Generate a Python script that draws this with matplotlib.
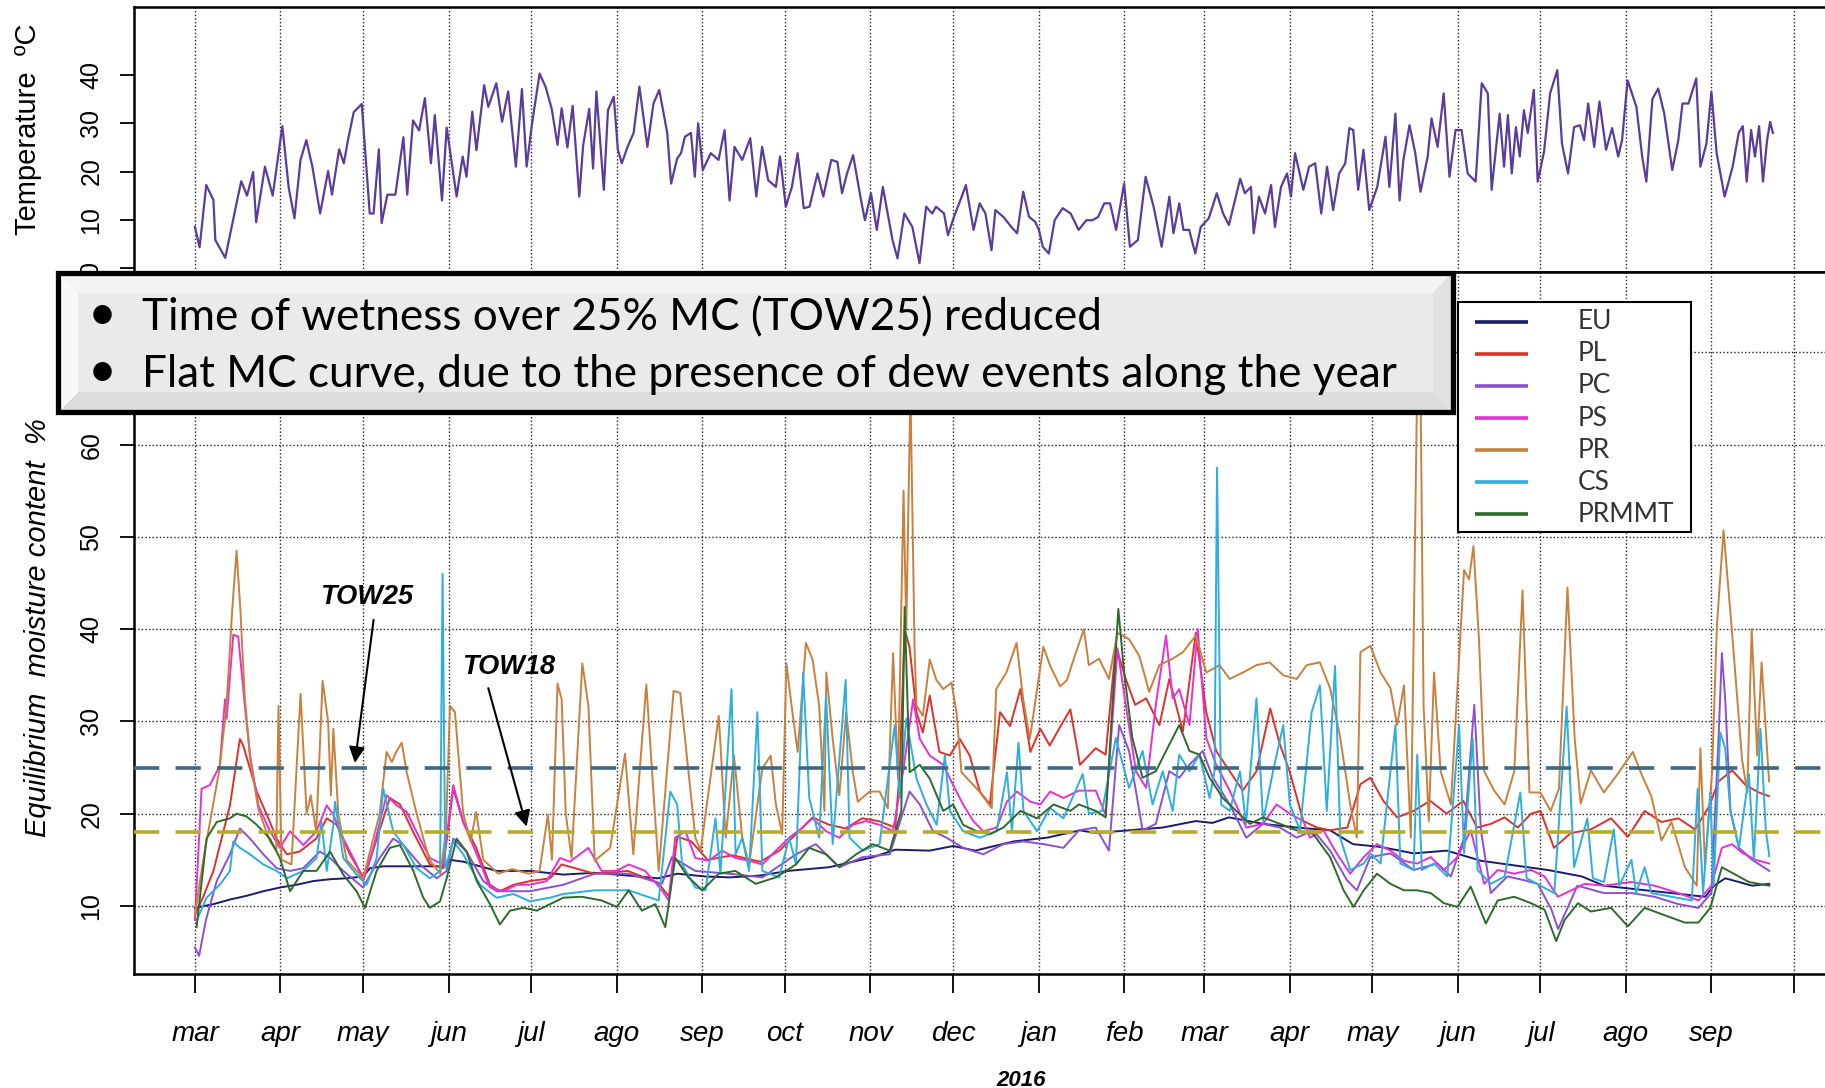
import matplotlib
matplotlib.use("Agg")
import matplotlib.pyplot as plt
import numpy as np
from matplotlib.patches import Rectangle

# all x values are days counted from 1 March 2015

MONTH_NAMES = ["mar", "apr", "may", "jun", "jul", "ago", "sep", "oct", "nov", "dec",
               "jan", "feb", "mar", "apr", "may", "jun", "jul", "ago", "sep"]

TEMP_DAY = [0, 1.7, 4.1, 6.7, 7.4, 11.0, 15.3, 16.8, 18.9, 21.1, 22.2, 25.4, 28.2, 31.7, 34.0,
            36.1, 38.3, 40.4, 42.6, 45.4, 48.3, 49.7, 52.3, 54.0, 55.5, 57.6, 60.5, 63.4, 64.8,
            66.7, 67.7, 69.8, 72.7, 75.6, 77.0, 79.1, 81.3, 83.4, 85.6, 87.0, 89.6, 91.3, 92.5,
            94.9, 97.1, 98.5, 100.6, 102.1, 104.9, 106.4, 109.3, 111.4, 113.6, 116.4, 118.6,
            120.3, 122.2, 125.0, 127.2, 129.4, 131.5, 133.0, 135.1, 137.0, 139.4, 140.8, 143.0,
            144.4, 145.6,
            148.3, 149.8, 151.9, 153.4, 154.8, 156.9, 159.1, 161.2, 164.1, 166.3, 168.4, 171.3,
            172.7, 174.9, 176.3, 177.7, 179.9, 181.3, 182.5, 184.2, 187.1, 189.9, 192.1, 193.9,
            195.7, 198.5, 201.4, 203.6, 205.7, 207.9, 210.7, 212.2, 214.3, 216.5, 218.6, 220.8,
            222.9, 225.8, 227.9, 230.8, 233.0, 234.7, 236.5, 238.7, 241.6, 243.0, 245.2, 247.3,
            249.5, 253.0, 254.8, 257.3, 260.2, 262.8, 265.2, 267.4, 268.8, 271.7, 273.1, 275.3,
            278.1, 279.6, 282.4, 284.6, 286.7, 288.9, 290.3, 293.2, 296.1, 298.2, 300.4, 302.5,
            304.7, 306.1, 307.5, 309.7, 311.8, 314.7, 317.6, 320.5, 323.3, 325.5, 327.6, 329.8,
            331.9, 334.1, 337.0, 339.1, 342.0, 344.8, 347.7, 350.6, 353.4, 354.9, 357.0, 358.5,
            360.6, 362.8,
            364.8, 367.7, 370.6, 372.9, 375.0, 377.2, 379.1, 380.8, 383.0, 384.0, 385.9, 388.1,
            390.3, 391.7, 393.9, 396.1, 397.5, 399.0, 402.0, 404.1, 406.3, 408.5, 410.6, 412.8,
            415.0, 417.2, 418.7, 420.1, 421.9, 423.8, 425.9, 428.8, 431.8, 433.2, 435.4, 436.9,
            438.3, 440.5, 442.6, 444.5, 447.1, 448.5, 450.7, 452.9, 455.0, 457.2, 459.4, 461.6,
            464.5, 466.7, 468.9, 470.3, 473.2, 474.8, 476.2, 477.6, 479.1, 480.5, 482.0, 483.4,
            485.6, 487.0, 489.3, 491.5, 494.1, 495.8, 498.0, 500.2, 502.3, 503.8, 505.3, 507.5,
            509.4, 511.8, 514.0, 516.2, 517.6, 519.6, 522.8, 524.9, 526.4, 528.6, 530.7, 532.9,
            535.8, 538.0, 539.5, 541.7, 544.5, 546.0, 548.2, 550.0, 551.9, 554.8, 557.7, 559.9,
            561.4, 562.8, 564.4, 565.8, 567.3, 568.7, 570.2, 571.3, 572.3]
TEMP_C = [8.5, 4.3, 17.2, 14.1, 5.8, 2.1, 14.0, 18.0, 15.0, 19.9, 9.5, 21.0, 15.0, 29.4, 16.7,
          10.3, 22.4, 26.5, 21.0, 11.3, 20.1, 15.2, 24.6, 21.7, 26.5, 32.3, 34.0, 11.3, 11.3,
          24.6, 9.3, 15.2, 15.2, 27.1, 15.2, 30.6, 28.5, 35.2, 21.7, 31.7, 14.0, 29.1, 24.4,
          14.8, 23.1, 18.9, 32.4, 24.4, 37.9, 33.4, 38.3, 30.3, 36.6, 21.0, 37.1,
          21.0, 29.7, 40.3, 37.5, 33.0, 25.5, 33.1, 25.0, 33.6, 14.8, 25.4, 33.0,
          20.6, 36.6,
          16.2, 32.7, 35.5, 24.5, 21.7, 25.1, 28.0, 37.6, 25.1, 34.1, 36.9, 28.0,
          17.5, 22.7, 23.8, 27.2, 28.0, 18.9, 30.0, 20.3, 23.8, 22.4, 28.6, 14.0,
          25.1, 22.4, 26.9, 14.8, 25.1, 18.2, 16.8, 23.1, 12.7, 16.8, 23.8, 12.4,
          12.7, 19.6, 14.8, 22.4, 22.0, 15.5, 19.6, 23.4, 14.0, 9.9, 15.5, 7.9,
          16.8, 5.8, 2.0, 11.3, 8.5, 1.0, 12.7, 11.3, 12.7, 11.3, 6.8, 10.6,
          14.8, 17.2, 7.9, 13.4, 11.3, 3.7, 12.0, 10.6, 8.5, 7.2, 15.8, 10.6,
          9.6, 7.9, 4.4, 3.0, 9.9, 12.4, 11.3, 7.9, 9.9, 9.9, 10.6, 13.4,
          13.4, 7.9, 17.5, 4.4, 5.8, 18.9, 12.7, 4.4, 14.8, 7.2, 13.4, 7.9,
          7.9, 3.0,
          8.5, 10.3, 15.5, 11.3, 8.9, 14.0, 18.5, 15.5, 16.8, 7.2, 14.8, 11.3,
          17.2, 8.5, 16.8, 19.6, 14.8, 23.8, 16.2, 21.0, 21.7, 11.3, 21.0, 12.0,
          19.6, 21.7, 29.0, 28.6, 16.2, 24.5, 12.0, 16.8, 27.2, 16.8, 32.0, 14.0,
          22.4, 29.6, 23.8, 15.8, 23.1, 31.0, 25.1, 36.2, 18.9, 28.6, 28.6, 19.6,
          17.9, 38.3, 36.2, 16.2, 32.0, 21.0, 31.7, 19.6, 29.2, 23.1, 32.7, 28.0,
          36.9, 17.9, 24.1, 36.2, 41.0, 25.8, 19.6, 29.2, 29.6, 26.5, 34.1, 25.1,
          34.5, 24.5, 29.0, 23.1, 26.5, 38.9, 33.4, 23.1, 17.9, 35.0, 37.2, 32.0,
          20.3, 26.5, 34.1, 34.1, 39.3, 21.0, 25.8, 36.5, 23.8, 14.8, 21.0, 28.0,
          29.4, 17.9, 28.6, 23.1, 29.4, 17.9, 26.5, 30.3, 28.0]

EU_DAY = [0, 6.7, 12.7, 18.7, 24.8, 30.8, 36.9, 42.9, 49, 55, 61, 63.5, 68.3, 79.2, 90, 92.5,
          97.3, 103.4, 109.4, 115.5, 121.5, 133.6, 145, 157, 168, 175, 185, 194, 205, 215,
          230, 246, 254, 266.5, 275, 283, 297, 309, 321, 326.7, 338.8, 351, 363, 369, 375,
          387.4, 399.6, 411.7, 420, 430, 442, 454, 466.4, 478.5, 490.7, 503, 511, 523, 535.5,
          547.7, 551, 555, 560, 564.8, 571]
EU_MC = [9.8, 10.2, 10.7, 11.1, 11.6, 12.0, 12.3, 12.7, 12.9, 13.0, 13.2, 14.1, 14.3, 14.3, 14.3,
         15.0, 14.8, 14.3, 13.8, 13.8, 13.8, 13.4, 13.6, 13.3, 13.0, 13.5, 13.2, 13.1, 13.3, 13.8,
         14.2, 15.3, 16.1, 16.0, 16.5, 16.0, 17.0, 17.4, 18.2, 17.9, 18.2, 18.5, 19.2, 19.0, 19.6,
         18.9, 18.5, 18.2, 16.7, 16.4, 15.7, 16.0, 14.9, 14.4, 13.9, 13.2, 12.2, 11.8, 11.4,
         11.0, 12.2, 13.0, 12.6, 12.2, 12.4]

PL_DAY = [0, 3, 6.7, 12.7, 16.3, 17.5, 22.4, 27.2, 29.6, 33.3, 38, 44, 47.8, 51.4, 56.2, 61.3,
          66, 70.7, 74.4, 79.2, 85.2, 90, 93.7, 97.3, 102, 107, 110.6, 115.5, 121.5, 128.8, 133,
          145, 157, 168, 172, 175, 180, 186, 195, 205, 212, 218, 224, 230, 236, 242, 248, 254,
          255.6, 257.4, 259.2, 261.7, 264, 266.5, 270, 273.8, 277.4, 281, 284.7, 288.3, 292,
          295.6, 299.4, 303, 306.6, 310, 314, 317.5, 321, 326.7, 330.3, 334, 337.6, 341, 345,
          349.8, 353.4, 358.3, 363, 366.8, 370.4, 375.3, 380, 385, 390, 393.5, 397, 402, 407,
          411.7, 418, 422.7, 426.3, 431, 436, 442, 448, 454, 460, 465, 470, 475, 479.8, 484.6,
          488, 492.9, 499, 506.3, 513.6, 519.7, 525.8, 531.9, 538, 544, 549, 552.6, 557.5, 562.4,
          567.2, 570.9]
PL_MC = [9.0, 11, 13.8, 20.9, 28.1, 27.4, 22.4, 19.1, 17.3, 15.6, 15.9, 17.3, 19.5, 18.8, 15.6,
         13.0, 17.3, 21.7, 21.0, 18.0, 14.5, 14.1, 22.7, 19.1, 16.3, 12.3, 11.6, 12.3, 12.7, 13.0,
         14.5, 13.5, 13.8, 12.5, 11.0, 17.5, 17.0, 15.0, 15.5, 14.8, 16.0, 17.8, 19.6, 18.8, 18.4,
         19.5, 19.2, 18.5, 24.5, 40.0, 38.0, 31.0, 28.8, 32.8, 26.7, 26.3, 28.1, 26.3, 22.4, 21.0,
         31.0, 29.5, 33.5, 26.7, 29.2, 27.4, 29.5, 31.3, 25.3, 27.1, 26.4, 38.2, 34.6, 31.8, 32.5,
         29.6, 34.6, 28.9, 39.6, 31.0, 26.8, 24.6, 22.5, 24.6, 31.4, 27.5, 24.6, 19.2, 18.5, 18.2,
         18.5, 23.2, 23.9, 21.4, 19.6, 20.3, 21.4, 20.0, 21.4, 18.5, 18.9, 19.6, 18.5, 20.0, 20.3,
         16.3, 17.9, 18.3, 19.5, 17.5, 20.3, 19.1, 19.5, 18.3, 20.7, 23.5, 24.7, 23.1, 22.3, 21.9]

PC_DAY = [0, 1.5, 4, 7.9, 12.7, 16.3, 20, 24.8, 29.6, 34.5, 39.3, 45.3, 49, 53.8, 61, 67, 71.9,
          75.6, 81.6, 87.7, 91.3, 93.7, 98.5, 104.6, 109.4, 121.5, 133.6, 145, 157.3, 169.4, 173,
          181.5, 193.7, 205.8, 218, 225.2, 233.7, 242.2, 252, 259.2, 262.9, 267.7, 272.6, 278.6,
          285.9, 293.2, 300.5, 307.8, 315, 320.6, 326.7, 331.5, 335.2, 338.8, 343.7, 348.5, 353.4,
          357, 360.7, 365.5, 369.2, 375.3, 381.3, 387.4, 393.5, 399.6, 405.6, 411.7, 417.8, 421.4,
          426.3, 433.6, 442, 450.6, 455.5, 460.3, 464, 466.4, 470, 476, 482, 487, 492, 494.4,
          501.4, 511, 521, 529.4, 538, 545.3, 550, 552.6, 553.8, 555, 556.9, 560, 564.8, 571]
PC_MC = [5.5, 4.6, 8.5, 12.7, 15.6, 18.4, 17.3, 15.6, 14.1, 13.8, 14.1, 15.9, 15.2, 13.8, 12.0,
         15.2, 17.3, 16.6, 14.5, 13.0, 13.8, 17.3, 15.9, 12.7, 11.6, 11.6, 12.3, 13.5, 13.5, 12.4,
         15.3, 13.8, 13.5, 13.1, 15.6, 16.7, 14.2, 15.3, 15.6, 22.4, 21.0, 18.1, 17.4, 16.3, 15.6,
         16.7, 17.0, 16.7, 16.3, 18.2, 18.5, 16.0, 29.6, 26.8, 18.2, 18.9, 24.6, 23.9, 25.3, 26.8,
         23.9, 21.0, 17.4, 18.9, 18.5, 17.4, 18.2, 16.0, 12.8, 11.7, 15.3, 15.7, 13.9, 14.6, 13.2,
         17.4, 31.8, 18.2, 11.4, 13.2, 12.8, 12.4, 9.6, 7.5, 12.2, 11.4, 11.4, 11.0, 10.2, 9.8,
         11.4, 28.3, 37.4, 32.4, 20.3, 16.3, 15.0, 13.8]

PS_DAY = [0, 2.4, 5.4, 9, 10.9, 11.5, 13.9, 15.7, 18.1, 20, 23, 27.2, 30.8, 34.5, 39.3, 44.1,
          47.8, 50.2, 53.8, 58.6, 61, 64.7, 69.5, 73.2, 76.8, 81.6, 85.2, 90, 93.7, 97.3, 102.2,
          107, 111.8, 116.7, 121.5, 127.6, 132.4, 136, 142.7, 147.5, 153, 157.3, 163.3, 169.4,
          171.8, 174.2, 177.9, 181.5, 186.4, 191.2, 196, 201, 205.8, 210.7, 215.5, 220.4, 224,
          228.9, 233.7, 238.6, 243.4, 248.3, 253.2, 256.8, 260.5, 262.9, 266.5, 271.4, 275,
          278.6, 282.3, 285.9, 290.8, 294.5, 298.1, 303, 306.6, 310.2, 315, 320.6, 326.7, 330.3,
          334.6, 337.6, 341.3, 345, 348.5, 352.2, 354.6, 357, 360.7, 363.7, 366.8, 370.4, 375.3,
          381.3, 387.4, 392.3, 397.1, 402, 404.4, 409.3, 414.1, 419, 423.9, 428.7, 433.6, 438.5,
          443.3, 448.2, 453, 457.9, 462.7, 467.6, 472.5, 478.5, 484.6, 489.5, 494.3, 499.2, 504,
          511, 521, 529.4, 538, 545.3, 550, 553.8, 557.5, 561, 566, 571]
PS_MC = [8.5, 22.7, 23.1, 25.2, 32.4, 30.3, 39.4, 39.2, 31.7, 26.3, 20.9, 18.1, 16.3, 18.1, 16.6,
         18.1, 20.9, 19.9, 17.3, 14.5, 12.7, 16.3, 22.0, 20.9, 20.2, 17.3, 15.2, 14.5, 23.1, 19.1,
         15.6, 12.0, 11.6, 12.3, 12.3, 12.7, 15.2, 14.8, 16.3, 13.8, 13.8, 14.5, 13.8, 11.7, 10.6,
         17.4, 18.1, 15.2, 14.9, 16.0, 15.2, 14.9, 14.5, 16.0, 17.4, 18.5, 19.5, 18.1, 17.4, 18.8,
         19.2, 18.8, 18.1, 24.5, 32.4, 28.1, 26.3, 25.3, 23.1, 21.0, 19.2, 18.1, 18.5, 21.3, 22.4,
         21.3, 21.0, 22.4, 21.7, 22.5, 22.5, 19.9, 37.9, 31.8, 24.6, 22.8, 31.8, 39.3, 32.5, 33.5,
         29.6, 40.0, 28.2, 25.3, 22.5, 18.5, 18.9, 21.0, 20.0, 19.2, 17.4, 18.2, 15.7, 13.5, 15.3,
         16.7, 16.0, 14.9, 14.6, 15.3, 13.9, 15.3, 18.2, 12.4, 13.9, 13.5, 13.9, 13.2, 11.0, 11.7,
         12.4, 12.2, 12.6, 12.2, 11.4, 10.6, 12.2, 16.3, 16.7, 15.8, 15.0, 14.6]

PR_DAY = [0, 3, 6, 9, 11.5, 13.5, 15.1, 16.5, 18, 20, 23, 27.2, 29.5, 30.3, 31.4, 35, 38.3, 40.5,
          42, 44, 46.3, 48.3, 49.3, 50.2, 52, 55, 61, 67, 69.5, 71.4, 73, 75, 76.8, 80.4, 85, 89,
          91, 92.5, 94.3, 97.3, 100, 102, 104.6, 110, 115, 121, 125, 128, 129.5, 131.5, 133,
          134.5, 136.6, 140.5, 142.7, 145, 150.6, 156, 159, 163.7, 168.2, 173.6, 176, 181.5,
          183.4, 190, 192.5, 195.5, 198.5, 201, 205.8, 208.8, 210.7, 213, 214.5, 216.7, 218.6,
          221.6, 224, 226.4, 228.3, 229, 231.3, 233.7, 236.2, 238.6, 240.4, 244.7, 248.3, 251.3,
          253.2, 255, 257, 258, 259.5, 261, 261.7, 264, 266.5, 268.9, 271.4, 274.4, 276.2, 278,
          284.5, 289, 290.6, 294.3, 298, 300.4, 302.8, 307.7, 310.2, 313.8, 316.3, 318, 322.4,
          324.2, 327.9, 331.5, 334.6, 338.8, 342.5, 346.1, 349.8, 354.6, 358.3, 363, 366.8, 371.6,
          375.3, 380.1, 385, 389.8, 394.7, 399.6, 403.2, 408, 411.7, 415.4, 419, 421.4, 422.7,
          426.3, 430, 433.6, 436, 438.5, 441, 444, 445.6, 447.5, 449.4, 451.8, 455.5, 460.3,
          462.1, 463.7, 465.7, 467.6, 471.2, 475, 478.5, 481.5, 484, 488, 491.7, 494.7, 497.8,
          500.4, 502.6, 506.3, 511, 516, 521.5, 524.6, 528.2, 531.9, 535.5, 540.4, 544.7, 546,
          547.7, 550.2, 552, 554.4, 557.5, 561.1, 563, 564.6, 566.6, 568.2, 570.9]
PR_MC = [9, 15, 20, 25, 32, 42, 48.5, 42, 33, 26, 20.5, 17, 16, 31.7, 15, 14.5, 33, 20, 22, 18,
         34.4, 30, 22, 29.2, 20, 15, 13, 20, 26.7, 25.6, 26.7, 27.7, 24.5, 20, 15, 13.5, 18, 31.7,
         31, 20, 17, 20.2, 15, 13.5, 14, 13.5, 13.8, 19.9, 15, 34.1, 32.4, 20, 15.2, 36.3, 31.7,
         14.9, 16.3, 26.5, 15.6, 34, 13.8, 33.3, 33.1, 17.4, 16, 30.6, 17.4, 26.3, 17.4, 14.5,
         24.9, 26.3, 21, 17.8, 36.3, 31, 26.7, 38.5, 36.7, 31.7, 20.3, 35.3, 28.1, 22, 31, 24.5,
         21.3, 22.4, 22.4, 20.6, 37.4, 23.8, 55, 40, 66, 38, 31.7, 30.6, 36.7, 34.5, 33.5, 34.2,
         31, 24.5, 22.4, 20.6, 33.5, 35.3, 38.5, 32.4, 28.1, 38.1, 36, 33.8, 34.5, 36.1, 40, 36.1,
         36.8, 34.6, 39.6, 38.9, 37.1, 33.2, 36.1, 36.8, 37.5, 39.3, 35.3, 36.1, 34.6, 35.3, 36.1,
         36.4, 35, 34.6, 36.1, 36.4, 33.6, 28.2, 21, 17.4, 37.5, 38.2, 35.3, 33.6, 29.6, 33.9,
         17.4, 82, 31.8, 19.2, 35.3, 24.6, 21, 46.4, 45.4, 49, 38.9, 24.6, 22.5, 21, 24.6, 44.2,
         22.3, 22.3, 20.3, 22.7, 44.5, 28.2, 21.1, 24.7, 22.3, 24.3, 26.7, 24.3, 21.9, 17.1, 19.1,
         14.2, 12.2, 27.1, 14.2, 24.3, 40.4, 50.7, 39.6, 25.9, 22.3, 40, 26.3, 36.4, 23.5]

CS_DAY = [0.6, 4.2, 9, 12.7, 13.9, 16.3, 20, 24.8, 29.6, 33.3, 39.3, 44.1, 45.9, 47.8, 50.2,
          50.8, 53.8, 58.6, 62.3, 65.9, 68.3, 71.9, 75.6, 80.4, 85.2, 88.9, 89.8, 90.8, 93.7,
          97.3, 103.4, 109.4, 115.5, 121.5, 128.8, 133.6, 145, 157.3, 168.2, 172.4, 174.9, 176.7,
          181.5, 185.2, 188.8, 190.6, 194.6, 196.1, 198.5, 201, 204, 205.8, 211.9, 215.5, 218,
          220.6, 222.8, 226.4, 228.9, 231.3, 236, 237.4, 242.2, 248.3, 253.8, 255.6, 258, 261.7,
          265.3, 269, 272, 273.8, 278.6, 284.7, 290.8, 294.5, 296.3, 298.7, 300.5, 305.4, 310.2,
          315, 322, 324.2, 329, 334, 338.8, 343.7, 347.3, 351, 354.6, 357, 360.7, 364.3, 368,
          369.8, 370.7, 372.2, 375.3, 379, 381.2, 385, 387.4, 391, 394.7, 397.1, 400.8, 405, 408,
          410.5, 413.5, 415.4, 419, 423.9, 426.3, 430, 435.4, 437.2, 442, 443.3, 445, 449.4,
          454.2, 458.5, 460.3, 463.4, 465.2, 470, 475, 480.7, 483, 488, 493, 497.5, 500.2, 505,
          507, 511, 514.6, 516.6, 521, 522.7, 525.8, 528.2, 535.5, 542.9, 545, 547, 549.6, 550.8,
          553.2, 555, 556.9, 560, 563.6, 565.4, 567.8, 569.7, 571]
CS_MC = [8.4, 10.9, 12.3, 13.8, 17.0, 16.3, 15.6, 14.5, 13.8, 13.0, 13.8, 15.2, 19.1, 13.8, 18.8,
         21.3, 15.2, 13.4, 12.3, 15.2, 22.7, 18.1, 16.6, 14.1, 13.0, 13.8, 46.0, 14.1, 17.0, 15.6,
         12.3, 10.9, 11.3, 10.5, 10.9, 11.3, 11.7, 11.7, 10.6, 22.4, 21.0, 14.5, 12.0, 11.7, 19.5,
         13.5, 33.5, 15.6, 17.4, 13.8, 31.0, 13.8, 13.1, 17.4, 14.5, 35.3, 21.7, 17.4, 32.8, 16.7,
         34.5, 17.4, 16.0, 16.7, 29.6, 21.7, 30.3, 23.8, 21.0, 18.8, 26.3, 20.3, 18.1, 17.4, 18.1,
         24.5, 18.1, 27.7, 20.3, 18.1, 20.6, 19.5, 24.3, 20.0, 20.3, 28.2, 22.8, 26.8, 21.0, 24.6,
         20.3, 26.4, 24.6, 26.4, 21.7, 24.6, 57.5, 21.0, 20.3, 24.6, 18.9, 32.5, 19.2, 24.6, 29.6,
         21.0, 18.2, 31.0, 33.9, 20.3, 36.0, 17.4, 13.9, 14.6, 15.7, 14.6, 29.6, 14.6, 13.9, 26.4,
         13.9, 14.6, 13.2, 29.6, 15.7, 28.2, 13.9, 12.4, 13.2, 22.3, 13.0, 12.2, 11.4, 31.6, 14.2,
         19.5, 13.0, 12.6, 18.3, 12.2, 15.0, 11.4, 14.2, 11.4, 11.0, 10.6, 22.7, 11.4, 22.3, 12.2,
         28.8, 27.1, 20.3, 16.3, 24.3, 15.0, 29.2, 18.3, 15.4]

PRMMT_DAY = [0.6, 4.2, 7.9, 12.7, 15.1, 18.7, 22.4, 27.2, 30.8, 34.5, 39.3, 44.1, 49, 53.8, 58.6,
             61.7, 65.9, 70.7, 74.4, 79.2, 82.8, 85.2, 88.9, 91.3, 94.9, 98.5, 102.2, 107, 110.6,
             114.3, 119.1, 124, 128.8, 133.6, 140.3, 147.5, 153, 157.3, 162.1, 167, 170.6, 174.2,
             179, 184, 190, 196, 203.4, 210.7, 218, 222.8, 228.9, 233.7, 239.8, 245.8, 252, 256.2,
             257.4, 259.2, 262.9, 266.5, 271.4, 275, 278.6, 283.5, 288.4, 293.2, 299.4, 305.4,
             311.4, 317.5, 320.6, 326.7, 330.3, 334.9, 337, 340, 343.7, 348.5, 353.4, 357, 360.7,
             364.3, 368, 372.8, 377.7, 382.6, 387.4, 393.5, 399.6, 405.6, 411.7, 416.6, 420.2,
             423.9, 428.7, 433.6, 438.5, 443.3, 448.2, 453, 457.9, 462.7, 468.2, 472.5, 478.5,
             484.6, 489.5, 493.7, 496.8, 501.6, 506.3, 513.6, 519.7, 525.8, 533, 540.4, 545.3,
             549.6, 553.8, 558.7, 563.6, 571]
PRMMT_MC = [7.7, 17.3, 19.1, 19.5, 20.0, 19.7, 18.8, 17.3, 15.2, 11.6, 13.8, 13.8, 15.9, 13.4,
            11.6, 9.8, 13.8, 16.3, 16.6, 13.8, 10.9, 9.8, 10.5, 13.0, 17.3, 15.9, 12.7, 10.2, 8.0,
            9.5, 9.8, 9.5, 10.2, 10.9, 11.0, 10.6, 9.9, 11.7, 9.5, 10.2, 7.7, 15.2, 13.1, 11.7,
            13.5, 13.8, 12.4, 13.1, 14.5, 16.3, 15.6, 14.2, 15.6, 16.7, 16.0, 20.3, 42.4, 24.5,
            25.3, 23.8, 20.3, 21.0, 18.8, 18.1, 17.8, 18.5, 20.3, 19.5, 21.0, 20.3, 21.0, 20.3,
            19.6, 42.2, 35.3, 28.2, 23.9, 24.6, 27.5, 29.6, 26.8, 26.4, 23.9, 21.7, 20.3, 18.9,
            19.6, 18.9, 18.2, 17.8, 15.3, 11.7, 9.9, 11.7, 13.5, 12.4, 11.7, 11.7, 11.4, 10.3, 9.9,
            12.1, 8.1, 10.6, 11.0, 10.3, 9.6, 6.2, 8.5, 10.3, 9.4, 9.8, 7.8, 9.8, 9.0, 8.2, 8.2,
            9.8, 14.2, 13.4, 12.6, 12.2]

SERIES_NAMES = ["EU", "PL", "PC", "PS", "PR", "CS", "PRMMT"]
SERIES_DAYS = [EU_DAY, PL_DAY, PC_DAY, PS_DAY, PR_DAY, CS_DAY, PRMMT_DAY]
SERIES_MC = [EU_MC, PL_MC, PC_MC, PS_MC, PR_MC, CS_MC, PRMMT_MC]
SERIES_COLORS = ["#1b1b6e", "#e0302a", "#8b4fd6", "#e62fd6", "#c9803d", "#2caee0", "#2d6b2d"]

TOW_LEVELS = [25, 18]
TOW_LABELS = ["TOW25", "TOW18"]
MC_TICKS = [10, 20, 30, 40, 50, 60, 70]

BULLETS = ["Time of wetness over 25% MC (TOW25) reduced",
           "Flat MC curve, due to the presence of dew events along the year"]

W, H = 1825, 1088
X_LEFT, X_RIGHT = -22.1, 591.2


def month_starts():
    months = np.arange(np.datetime64("2015-03"), np.datetime64("2016-11"))
    return (months.astype("datetime64[D]") - np.datetime64("2015-03-01")).astype(int)


def px_box(x0, y0, x1, y1):
    # pixel box (top-left origin) -> figure rect
    return [x0 / W, 1 - y1 / H, (x1 - x0) / W, (y1 - y0) / H]


def setup_axis(ax, ticks):
    ax.set_xlim(X_LEFT, X_RIGHT)
    ax.set_xticks(ticks)
    ax.spines["right"].set_visible(False)
    for s in ("left", "bottom", "top"):
        ax.spines[s].set_linewidth(1.8)
    ax.tick_params(axis="both", direction="out", length=10, width=1.3, colors="black")
    ax.tick_params(axis="y", labelrotation=90, pad=12, labelsize=18)
    ax.grid(True, axis="x", color="#222222", linewidth=1.0, linestyle=(0, (1, 1.6)))
    ax.set_axisbelow(True)


def draw_box(fig):
    ax = fig.add_axes(px_box(58, 273, 1453, 412), zorder=20)
    ax.set_axis_off()
    bw, bh, bev = 1395, 139, 20
    xx, yy = np.meshgrid(np.arange(bw), np.arange(bh))
    face = np.full((bh, bw), 0.915)
    top, bot, left, right = yy, bh - 1 - yy, xx, bw - 1 - xx
    near = np.minimum(np.minimum(top, bot), np.minimum(left, right))
    face[(near < bev) & (near == top)] = 0.95
    face[(near < bev) & (near == bot)] = 0.86
    face[(near < bev) & (near == right)] = 0.88
    face[(near < bev) & (near == left)] = 0.97
    ax.imshow(face, cmap="gray", vmin=0, vmax=1, extent=[0, 1, 0, 1], aspect="auto")
    ax.set_xlim(0, 1)
    ax.set_ylim(0, 1)
    ax.add_patch(Rectangle((0, 0), 1, 1, transform=ax.transAxes, facecolor="none",
                           edgecolor="black", lw=3.8, clip_on=False))
    for i, line in enumerate(BULLETS):
        y = [0.59, 0.18][i]
        ax.text(0.0215, y, "\u2022", fontsize=36, family="Lato", va="baseline",
                transform=ax.transAxes)
        ax.text(0.0602, y, line, fontsize=31.8, family="Lato", va="baseline",
                transform=ax.transAxes)


def draw_legend(fig):
    ax = fig.add_axes(px_box(1458, 302, 1691, 532), zorder=15)
    ax.set_xlim(0, 1)
    ax.set_ylim(0, 1)
    ax.set_xticks([])
    ax.set_yticks([])
    ax.set_facecolor("white")
    for s in ax.spines.values():
        s.set_linewidth(1.5)
    for i, (name, col) in enumerate(zip(SERIES_NAMES, SERIES_COLORS)):
        y = (532 - (321.7 + i * 32.1)) / 230
        ax.plot([0.073, 0.30], [y, y], color=col, lw=2.6, solid_capstyle="butt")
        ax.text(0.515, y, name, fontsize=19, family="Lato", color="#333333", va="center")


def tow_arrow(ax, label, text_xy, start, tip):
    ax.text(text_xy[0], text_xy[1], label, ha="center", va="center", fontsize=19.5,
            weight="bold", style="italic", family="Liberation Sans")
    ax.annotate("", xy=tip, xytext=start,
                arrowprops=dict(arrowstyle="-|>", color="black", lw=1.5, mutation_scale=24,
                                shrinkA=0, shrinkB=0))


def main():
    ticks = month_starts()
    fig = plt.figure(figsize=(W / 100, H / 100), dpi=100)

    # temperature panel
    ax_t = fig.add_axes(px_box(134, 7, W, 272))
    setup_axis(ax_t, ticks)
    ax_t.set_ylim(-0.83, 54.1)
    ax_t.set_yticks([0, 10, 20, 30, 40])
    ax_t.tick_params(axis="x", labelbottom=False)
    ax_t.plot(TEMP_DAY, TEMP_C, color="#5b3c9c", lw=1.6)
    ax_t.set_ylabel("Temperature  \u00baC", fontsize=21, family="Liberation Sans")
    ax_t.yaxis.set_label_coords(-0.0544, 0.54)
    for lab in ax_t.get_yticklabels():
        lab.set_va("center")
        lab.set_family("Liberation Sans")

    # moisture panel
    ax_b = fig.add_axes(px_box(134, 272, W, 974))
    setup_axis(ax_b, ticks)
    ax_b.set_ylim(2.63, 78.7)
    ax_b.set_yticks(MC_TICKS)
    ax_b.set_yticklabels([str(t) for t in MC_TICKS[:-1]] + [""])
    ax_b.grid(True, axis="y", color="#222222", linewidth=1.0, linestyle=(0, (1, 1.6)))
    ax_b.set_xticklabels(MONTH_NAMES + [""], fontsize=20, style="italic",
                         family="Liberation Sans")
    ax_b.tick_params(axis="x", pad=20, length=14)
    for lab in ax_b.get_yticklabels():
        lab.set_va("center")
        lab.set_family("Liberation Sans")
    ax_b.set_ylabel("Equilibrium  moisture content  %", fontsize=21, style="italic",
                    family="Liberation Sans")
    ax_b.yaxis.set_label_coords(-0.0485, 0.494)

    for d, v, c in zip(SERIES_DAYS, SERIES_MC, SERIES_COLORS):
        ax_b.plot(d, v, color=c, lw=1.4)

    ax_b.axhline(TOW_LEVELS[0], color="#3f6780", lw=2.6, dashes=(7, 4.5), zorder=3)
    ax_b.axhline(TOW_LEVELS[1], color="#b8ab2c", lw=2.6, dashes=(7, 4.5), zorder=3)

    tow_arrow(ax_b, TOW_LABELS[0], (62.4, 43.5), (64.8, 41.0), (58, 25.5))
    tow_arrow(ax_b, TOW_LABELS[1], (113.6, 35.9), (106.4, 33.6), (120.3, 18.6))

    fig.text(1021 / W, 1 - 1080 / H, "2016", fontsize=16, weight="bold", style="italic",
             family="Liberation Sans", ha="center", va="center")

    draw_legend(fig)
    draw_box(fig)

    fig.savefig("out.png", dpi=100)


main()
